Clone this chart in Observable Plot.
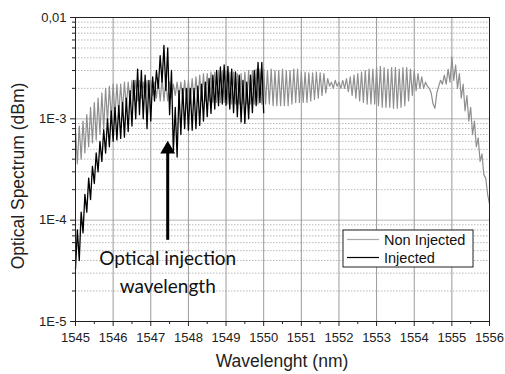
<!DOCTYPE html>
<html>
<head>
<meta charset="utf-8">
<script src="https://cdn.jsdelivr.net/npm/d3@7"></script>
<script src="https://cdn.jsdelivr.net/npm/@observablehq/plot@0.6"></script>
<style>
  html, body { margin: 0; padding: 0; background: #fff; }
  #chart svg { display: block; }
</style>
</head>
<body>
<div id="chart"></div>
<script>
// Shared wavelength sampling (nm)
const wavelength = [
  1545.00,1545.05,1545.10,1545.15,1545.20,1545.25,1545.30,1545.35,1545.40,1545.45,1545.50,1545.55,1545.60,1545.65,1545.70,1545.75,1545.80,1545.85,1545.90,1545.95,
  1546.00,1546.05,1546.10,1546.15,1546.20,1546.25,1546.30,1546.35,1546.40,1546.45,1546.50,1546.55,1546.60,1546.65,1546.70,1546.75,1546.80,1546.85,1546.90,1546.95,
  1547.00,1547.05,1547.10,1547.15,1547.20,1547.25,1547.30,1547.35,1547.40,1547.45,1547.50,1547.55,1547.60,1547.65,1547.70,1547.75,1547.80,1547.85,1547.90,1547.95,
  1548.00,1548.05,1548.10,1548.15,1548.20,1548.25,1548.30,1548.35,1548.40,1548.45,1548.50,1548.55,1548.60,1548.65,1548.70,1548.75,1548.80,1548.85,1548.90,1548.95,
  1549.00,1549.05,1549.10,1549.15,1549.20,1549.25,1549.30,1549.35,1549.40,1549.45,1549.50,1549.55,1549.60,1549.65,1549.70,1549.75,1549.80,1549.85,1549.90,1549.95,
  1550.00,1550.05,1550.10,1550.15,1550.20,1550.25,1550.30,1550.35,1550.40,1550.45,1550.50,1550.55,1550.60,1550.65,1550.70,1550.75,1550.80,1550.85,1550.90,1550.95,
  1551.00,1551.05,1551.10,1551.15,1551.20,1551.25,1551.30,1551.35,1551.40,1551.45,1551.50,1551.55,1551.60,1551.65,1551.70,1551.75,1551.80,1551.85,1551.90,1551.95,
  1552.00,1552.05,1552.10,1552.15,1552.20,1552.25,1552.30,1552.35,1552.40,1552.45,1552.50,1552.55,1552.60,1552.65,1552.70,1552.75,1552.80,1552.85,1552.90,1552.95,
  1553.00,1553.05,1553.10,1553.15,1553.20,1553.25,1553.30,1553.35,1553.40,1553.45,1553.50,1553.55,1553.60,1553.65,1553.70,1553.75,1553.80,1553.85,1553.90,1553.95,
  1554.00,1554.05,1554.10,1554.15,1554.20,1554.25,1554.30,1554.35,1554.40,1554.45,1554.50,1554.55,1554.60,1554.65,1554.70,1554.75,1554.80,1554.85,1554.90,1554.95,
  1555.00,1555.05,1555.10,1555.15,1555.20,1555.25,1555.30,1555.35,1555.40,1555.45,1555.50,1555.55,1555.60,1555.65,1555.70,1555.75,1555.80,1555.85,1555.90,1555.95,
  1556.00
];

// Non Injected spectrum, one value per wavelength sample
const nonInjected = [
  7.7e-4,3.6e-4,8.5e-4,4.0e-4,9.5e-4,4.6e-4,1.1e-3,5.3e-4,1.3e-3,5.8e-4,1.45e-3,6.2e-4,1.6e-3,7.0e-4,1.8e-3,8.0e-4,2.0e-3,9.3e-4,2.1e-3,1.0e-3,
  2.2e-3,1.08e-3,2.2e-3,1.1e-3,2.2e-3,1.2e-3,2.3e-3,1.3e-3,2.3e-3,1.4e-3,2.4e-3,1.5e-3,2.4e-3,1.5e-3,2.4e-3,1.6e-3,2.3e-3,1.6e-3,2.4e-3,1.6e-3,
  2.4e-3,1.7e-3,2.3e-3,1.6e-3,2.4e-3,1.5e-3,2.5e-3,1.5e-3,2.4e-3,1.5e-3,2.3e-3,1.6e-3,2.2e-3,1.7e-3,2.3e-3,1.6e-3,2.3e-3,1.5e-3,2.4e-3,1.5e-3,
  2.4e-3,1.5e-3,2.5e-3,1.5e-3,2.6e-3,1.5e-3,2.7e-3,1.5e-3,2.8e-3,1.5e-3,2.8e-3,1.5e-3,2.9e-3,1.45e-3,2.9e-3,1.45e-3,3.0e-3,1.45e-3,3.0e-3,1.45e-3,
  3.0e-3,1.4e-3,2.9e-3,1.4e-3,2.9e-3,1.4e-3,2.8e-3,1.4e-3,2.8e-3,1.4e-3,2.9e-3,1.4e-3,3.0e-3,1.4e-3,3.0e-3,1.4e-3,3.1e-3,1.4e-3,3.1e-3,1.4e-3,
  3.1e-3,1.4e-3,3.0e-3,1.4e-3,3.1e-3,1.35e-3,3.0e-3,1.35e-3,3.0e-3,1.35e-3,3.1e-3,1.35e-3,3.0e-3,1.35e-3,3.0e-3,1.4e-3,3.1e-3,1.45e-3,3.1e-3,1.45e-3,
  2.9e-3,1.45e-3,2.9e-3,1.45e-3,2.85e-3,1.5e-3,2.85e-3,1.55e-3,2.9e-3,1.6e-3,2.85e-3,1.7e-3,2.8e-3,1.8e-3,2.5e-3,2.1e-3,2.3e-3,2.0e-3,2.4e-3,2.1e-3,
  2.3e-3,2.0e-3,2.4e-3,2.0e-3,2.5e-3,1.85e-3,2.6e-3,1.7e-3,2.7e-3,1.6e-3,2.8e-3,1.5e-3,2.9e-3,1.45e-3,3.0e-3,1.4e-3,3.1e-3,1.4e-3,3.1e-3,1.4e-3,
  3.2e-3,1.35e-3,3.3e-3,1.3e-3,3.2e-3,1.3e-3,3.1e-3,1.3e-3,3.2e-3,1.27e-3,3.2e-3,1.27e-3,3.1e-3,1.3e-3,3.2e-3,1.35e-3,3.2e-3,1.5e-3,3.1e-3,1.7e-3,
  3.0e-3,1.9e-3,2.8e-3,2.0e-3,2.6e-3,2.0e-3,2.3e-3,2.1e-3,2.0e-3,1.8e-3,1.4e-3,1.27e-3,1.8e-3,2.1e-3,2.4e-3,2.2e-3,2.7e-3,2.2e-3,3.1e-3,2.3e-3,
  4.1e-3,2.4e-3,3.4e-3,2.0e-3,2.8e-3,1.6e-3,2.2e-3,1.2e-3,1.7e-3,9.5e-4,1.3e-3,7.0e-4,9.5e-4,5.3e-4,6.5e-4,3.8e-4,4.5e-4,2.8e-4,2.6e-4,1.8e-4,
  1.45e-4
];

// Injected spectrum, samples 1545.00 .. 1550.00
const injected = [
  3.3e-5,8.0e-5,4.0e-5,1.2e-4,7.5e-5,1.8e-4,1.2e-4,2.6e-4,1.6e-4,3.4e-4,2.3e-4,4.6e-4,3.0e-4,6.0e-4,3.8e-4,7.8e-4,4.6e-4,1.0e-3,5.3e-4,1.2e-3,
  6.0e-4,1.3e-3,6.2e-4,1.35e-3,6.4e-4,1.45e-3,6.6e-4,1.6e-3,7.5e-4,1.9e-3,8.5e-4,2.4e-3,1.0e-3,3.1e-3,1.1e-3,3.0e-3,1.0e-3,2.7e-3,8.0e-4,2.4e-3,
  9.5e-4,2.6e-3,1.5e-3,3.0e-3,2.0e-3,4.2e-3,2.3e-3,5.3e-3,1.9e-3,5.0e-3,1.1e-3,3.0e-3,4.7e-4,1.3e-3,4.2e-4,1.9e-3,7.0e-4,2.0e-3,8.0e-4,2.0e-3,
  7.7e-4,2.0e-3,7.7e-4,2.0e-3,8.0e-4,2.1e-3,8.6e-4,2.2e-3,9.5e-4,2.3e-3,1.05e-3,2.5e-3,1.13e-3,2.7e-3,1.25e-3,3.0e-3,1.35e-3,3.25e-3,1.4e-3,3.4e-3,
  1.36e-3,3.3e-3,1.25e-3,3.1e-3,1.15e-3,2.9e-3,1.05e-3,2.7e-3,9.3e-4,2.4e-3,9.0e-4,2.3e-3,1.0e-3,2.7e-3,1.15e-3,3.0e-3,1.35e-3,3.6e-3,1.45e-3,3.6e-3,
  1.15e-3
];

// Axis ticks and labels
const xTicks = [1545,1546,1547,1548,1549,1550,1551,1552,1553,1554,1555,1556];
const xMinorTicks = [1545.5,1546.5,1547.5,1548.5,1549.5,1550.5,1551.5,1552.5,1553.5,1554.5,1555.5];
const yTicks = [1e-5,1e-4,1e-3,1e-2];
const yTickLabels = ["1E-5","1E-4","1E-3","0,01"];
const yMinorTicks = [2e-5,3e-5,4e-5,5e-5,6e-5,7e-5,8e-5,9e-5,
                     2e-4,3e-4,4e-4,5e-4,6e-4,7e-4,8e-4,9e-4,
                     2e-3,3e-3,4e-3,5e-3,6e-3,7e-3,8e-3,9e-3];

// Annotation
const arrowWl = [1547.45];
const arrowFrom = [6.4e-5];
const arrowTo = [5.0e-4];
const noteText = ["Optical injection\nwavelength"];
const noteY = [5.6e-5];

const seriesNames = ["Non Injected", "Injected"];
const seriesColors = ["#8f8f8f", "#000000"];

const nonData = nonInjected.map((v, i) => ({wl: wavelength[i], v}));
const injData = injected.map((v, i) => ({wl: wavelength[i], v}));
const arrowData = arrowWl.map((w, i) => ({wl: w, y1: arrowFrom[i], y2: arrowTo[i]}));
const noteData = noteText.map((t, i) => ({wl: arrowWl[i], y: noteY[i], t}));

const W = 505, H = 374;
const mL = 75, mR = 16, mT = 17, mB = 53;
const FONT = "'Liberation Sans', Arial, sans-serif";

const chart = Plot.plot({
  width: W, height: H,
  marginLeft: mL, marginRight: mR, marginTop: mT, marginBottom: mB,
  style: {fontFamily: FONT, fontSize: "13px", color: "#222", background: "#fff", overflow: "visible"},
  x: {domain: [1545, 1556]},
  y: {type: "log", domain: [1e-5, 1e-2]},
  marks: [
    Plot.gridY(yMinorTicks, {stroke: "#b8b8b8", strokeOpacity: 1, strokeDasharray: "1.5,1.5"}),
    Plot.gridY(yTicks, {stroke: "#b4b4b4", strokeOpacity: 1, strokeWidth: 1}),
    Plot.gridX(xTicks, {stroke: "#9a9a9a", strokeOpacity: 1, strokeWidth: 1}),
    Plot.line(nonData, {x: "wl", y: "v", stroke: seriesColors[0], strokeWidth: 1.2}),
    Plot.line(injData, {x: "wl", y: "v", stroke: seriesColors[1], strokeWidth: 1.3}),
    Plot.link(arrowData, {x1: "wl", x2: "wl", y1: "y1", y2: "y2", stroke: "#000", strokeWidth: 3}),
    Plot.dot(arrowData, {x: "wl", y: "y2", symbol: "triangle", r: 5.5, fill: "#000", stroke: "none", dy: 0}),
    Plot.text(noteData, {x: "wl", y: "y", text: "t", lineAnchor: "top", lineHeight: 1.45, fontSize: 19, fill: "#111", fontFamily: "Lato, 'Open Sans', sans-serif"}),
    Plot.frame({stroke: "#222", strokeWidth: 1}),
    Plot.axisX(xTicks, {tickSize: 5, tickPadding: 6, tickFormat: d => String(d), label: null, stroke: "#222"}),
    Plot.axisX(xMinorTicks, {tickSize: 3, tickFormat: () => "", label: null, stroke: "#222"}),
    Plot.axisY(yTicks, {tickSize: 5, tickPadding: 4, tickFormat: d => yTickLabels[yTicks.indexOf(d)], label: null, stroke: "#222"}),
    Plot.axisY(yMinorTicks, {tickSize: 3, tickFormat: () => "", label: null, stroke: "#222"})
  ]
});

const svg = d3.select(chart);
// Axis titles
svg.append("text")
  .attr("x", mL + (W - mL - mR) / 2).attr("y", 367)
  .attr("text-anchor", "middle")
  .style("font-family", FONT).style("font-size", "17.5px").attr("fill", "#222")
  .text("Wavelenght (nm)");
svg.append("text")
  .attr("transform", "translate(24,176) rotate(-90)")
  .attr("text-anchor", "middle")
  .style("font-family", FONT).style("font-size", "17.5px").attr("fill", "#222")
  .text("Optical Spectrum (dBm)");

// Legend
const lg = svg.append("g").attr("transform", "translate(343,230)");
lg.append("rect").attr("width", 130).attr("height", 37).attr("fill", "#fff").attr("stroke", "#222").attr("stroke-width", 1);
seriesNames.forEach((name, i) => {
  const yy = 9.5 + i * 18;
  lg.append("line").attr("x1", 4).attr("x2", 36).attr("y1", yy).attr("y2", yy)
    .attr("stroke", i === 0 ? "#a8a8a8" : "#000").attr("stroke-width", 1.2);
  lg.append("text").attr("x", 41).attr("y", yy + 5)
    .attr("text-anchor", "start")
    .style("font-family", FONT).style("font-size", "14.5px").attr("fill", "#111")
    .text(name);
});

document.getElementById("chart").appendChild(chart);
</script>
</body>
</html>
